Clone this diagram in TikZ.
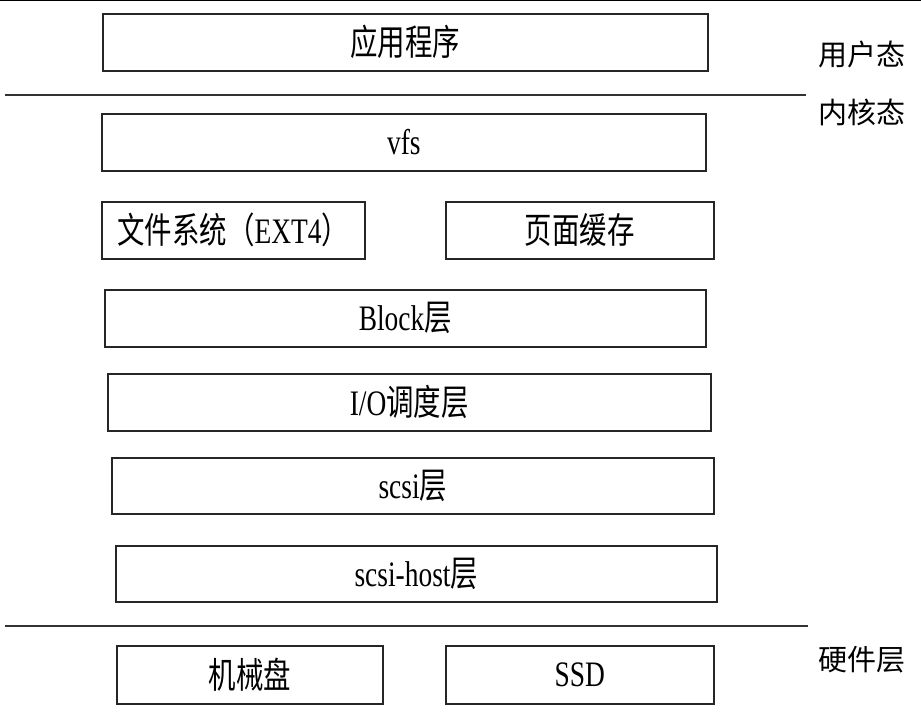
\documentclass[tikz,border=0pt]{standalone}
\usepackage{graphicx}
\usepackage{fontspec}
\setmainfont{Liberation Serif}
\newfontfamily\cjk{Noto Sans CJK SC}
\newcommand{\zh}[1]{{\cjk #1}}
\newcommand{\tall}[1]{\scalebox{0.98}[1.28]{#1}}
\begin{document}
\begin{tikzpicture}[x=1pt,y=-1pt,
  box/.style={draw=black!85, line width=1.6pt, anchor=north west, inner sep=0pt,
    font=\fontsize{28}{32}\selectfont},
  sep/.style={draw=black!80, line width=1.6pt},
  side/.style={font=\cjk\fontsize{29}{32}\selectfont, anchor=center}]
\useasboundingbox (0,0) rectangle (921,715);
\draw[line width=1.2pt] (0,0.6) -- (921,0.6);
\node[box, minimum width=605pt, minimum height=57pt] (app) at (102,13) {\tall{\zh{应用程序}}};
\coordinate (l1a) at (5,95); \coordinate (l1b) at (806,95);
\draw[sep] (l1a) -- (l1b);
\node[box, minimum width=604pt, minimum height=57pt] (vfs) at (101,113) {\tall{vfs}};
\node[box, minimum width=263pt, minimum height=57pt] (fs) at (101,201) {\tall{\zh{文件系统（}EXT4\zh{）}}};
\node[box, minimum width=268pt, minimum height=57pt] (pc) at (445,201) {\tall{\zh{页面缓存}}};
\node[box, minimum width=601pt, minimum height=57pt] (blk) at (104,289) {\tall{Block\zh{层}}};
\node[box, minimum width=603pt, minimum height=57pt] (io) at (107,373) {\tall{I/O\zh{调度层}}};
\node[box, minimum width=602pt, minimum height=56pt] (scsi) at (111,457) {\tall{scsi\zh{层}}};
\node[box, minimum width=601pt, minimum height=56pt] (host) at (115,545) {\tall{scsi-host\zh{层}}};
\coordinate (l2a) at (5,626); \coordinate (l2b) at (808,626);
\draw[sep] (l2a) -- (l2b);
\node[box, minimum width=266pt, minimum height=58pt] (hdd) at (116,645) {\tall{\zh{机械盘}}};
\node[box, minimum width=268pt, minimum height=58pt] (ssd) at (445,645) {\tall{SSD}};
\node[side] (user) at (862,54) {用户态};
\node[side] (kern) at (862,112) {内核态};
\node[side] (hw) at (862,660) {硬件层};
\end{tikzpicture}
\end{document}
